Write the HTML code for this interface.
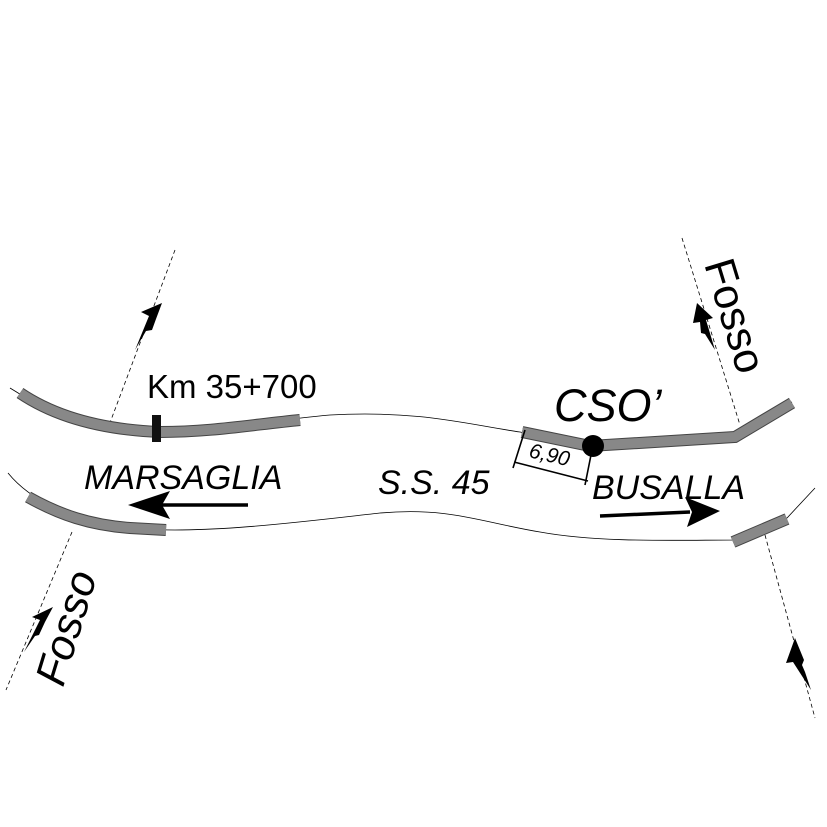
<!DOCTYPE html>
<html><head><meta charset="utf-8"><style>html,body{margin:0;padding:0;background:#fff}svg{display:block}</style></head>
<body>
<svg width="827" height="827" viewBox="0 0 827 827" xmlns="http://www.w3.org/2000/svg" font-family="Liberation Sans, Arial, sans-serif">
<g fill="none" stroke="#000" stroke-width="1">
  <path d="M175,250 L108,428" stroke-dasharray="4,3" stroke-width="0.8"/>
  <path d="M72,532 L6,690" stroke-dasharray="4,3" stroke-width="0.8"/>
  <path d="M682,238 L740,425" stroke-dasharray="4,3" stroke-width="0.8"/>
  <path d="M765,535 L815,718" stroke-dasharray="4,3" stroke-width="0.8"/>
  <path d="M10,388 C60,420 110,430 160,432 C220,432 270,420 330,415 C420,410 470,425 520,432 L590,446 L735,436 L792,402" stroke-width="0.8"/>
  <path d="M8,473 C30,500 70,520 130,528 C200,535 300,522 380,513 C450,507 480,522 540,532 C600,543 680,540 735,540 L787,518 L815,488" stroke-width="0.8"/>
</g>
<g fill="none" stroke="#444" stroke-width="12" stroke-linejoin="miter">
  <path d="M20,393 C60,420 110,430 160,432 C210,432 250,425 300,420"/>
  <path d="M522,432 L590,446 L735,437 L792,403"/>
  <path d="M28,497 C60,515 90,525 130,528 L166,530"/>
  <path d="M733,542 L787,519"/>
</g>
<g fill="none" stroke="#888" stroke-width="10" stroke-linejoin="miter">
  <path d="M20,393 C60,420 110,430 160,432 C210,432 250,425 300,420"/>
  <path d="M522,432 L590,446 L735,437 L792,403"/>
  <path d="M28,497 C60,515 90,525 130,528 L166,530"/>
  <path d="M733,542 L787,519"/>
</g>
<rect x="152" y="415" width="9" height="27" fill="#111"/>
<path d="M525,430 L513,468 M514,462 L588,481 M591,455 L585,485" stroke="#000" stroke-width="1.6" fill="none"/>
<circle cx="593" cy="446" r="11" fill="#000"/>
<line x1="160" y1="505" x2="248" y2="505" stroke="#000" stroke-width="3.5"/>
<polygon points="128,505 170,491 162,505 170,519" fill="#000"/>
<line x1="600" y1="516" x2="690" y2="512" stroke="#000" stroke-width="3.5"/>
<polygon points="720,511 685,497 692,512 687,527" fill="#000"/>
<g fill="#000">
  <polygon points="162,303 141,312 149,316 135,350 146,331 152,330 156,319"/>
  <polygon points="697,303 713,318 706,320 715,350 705,334 701,333 700,322 693,323"/>
  <polygon points="53,607 32,617 40,620 24,652 35,636 39,635 45,622"/>
  <polygon points="795,638 786,663 793,662 811,690 805,672 802,665 804,660"/>
</g>
<text x="147" y="398" font-size="33">Km 35+700</text>
<text x="554" y="421" font-size="45" font-style="italic">CSO’</text>
<text x="528" y="457" font-size="21" font-style="italic" transform="rotate(13 528 457)">6,90</text>
<text x="84" y="489" font-size="34" font-style="italic">MARSAGLIA</text>
<text x="378" y="494" font-size="34" font-style="italic">S.S. 45</text>
<text x="592" y="499" font-size="34" font-style="italic">BUSALLA</text>
<text x="0" y="0" font-size="43" transform="translate(704,264) rotate(73)">Fosso</text>
<text x="0" y="0" font-size="43" font-style="italic" transform="translate(63,688) rotate(-73)">Fosso</text>
</svg>
</body></html>
